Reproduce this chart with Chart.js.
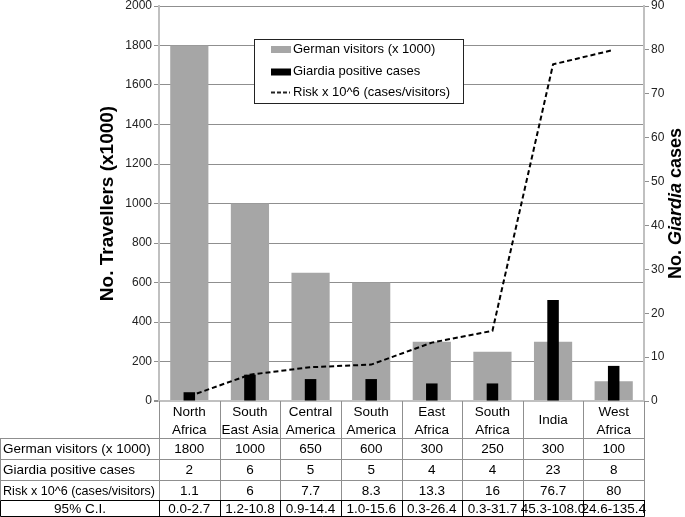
<!DOCTYPE html>
<html>
<head>
<meta charset="utf-8">
<script src="https://cdn.jsdelivr.net/npm/chart.js@4"></script>
<style>
html,body{margin:0;padding:0;background:#fff;}
#wrap{width:685px;height:517px;position:relative;}
</style>
</head>
<body>
<div id="wrap"><canvas id="c" width="685" height="517"></canvas></div>
<script>
// ---- data ----
const regions = [["North","Africa"],["South","East Asia"],["Central","America"],["South","America"],["East","Africa"],["South","Africa"],["India"],["West","Africa"]];
const visitors = [1800, 1000, 650, 600, 300, 250, 300, 100];
const cases = [2, 6, 5, 5, 4, 4, 23, 8];
const risk = [1.1, 6, 7.7, 8.3, 13.3, 16, 76.7, 80];
const ci = ["0.0-2.7","1.2-10.8","0.9-14.4","1.0-15.6","0.3-26.4","0.3-31.7","45.3-108.0","24.6-135.4"];
const seriesNames = ["German visitors (x 1000)", "Giardia positive cases", "Risk x 10^6 (cases/visitors)"];
const rowNames = ["German visitors (x 1000)", "Giardia positive cases", "Risk x 10^6 (cases/visitors)", "95% C.I."];
const leftTicksMax = 2000, leftStep = 200;
const rightTicksMax = 90, rightStep = 10;

const FONT = "'Liberation Sans', Arial, Helvetica, sans-serif";
const GRAY = '#a6a6a6';
const GRID = '#8f8f8f';
const AXIS = '#c0c0c0';

const overlay = {
  id: 'overlay',
  afterDraw(chart) {
    const ctx = chart.ctx;
    const x = chart.scales.x;
    const ca = chart.chartArea;
    const n = regions.length;
    const centers = regions.map((_, i) => x.getPixelForValue(i));
    const bounds = [ca.left];
    for (let i = 0; i < n - 1; i++) bounds.push((centers[i] + centers[i + 1]) / 2);
    bounds.push(ca.right);

    ctx.save();
    // ---- axis titles ----
    ctx.fillStyle = '#000';
    ctx.textAlign = 'center';
    ctx.textBaseline = 'middle';
    const midY = (ca.top + ca.bottom) / 2;
    ctx.save();
    ctx.translate(108, midY);
    ctx.rotate(-Math.PI / 2);
    ctx.font = 'bold 19px ' + FONT;
    ctx.fillText('No. Travellers (x1000)', 0, 0);
    ctx.restore();

    ctx.save();
    ctx.translate(676, midY);
    ctx.rotate(-Math.PI / 2);
    const parts = [['No. ', 'bold 18px '], ['Giardia', 'italic bold 18px '], [' cases', 'bold 18px ']];
    let total = 0;
    parts.forEach(p => { ctx.font = p[1] + FONT; total += ctx.measureText(p[0]).width; });
    let px = -total / 2;
    ctx.textAlign = 'left';
    parts.forEach(p => { ctx.font = p[1] + FONT; ctx.fillText(p[0], px, 0); px += ctx.measureText(p[0]).width; });
    ctx.restore();

    // ---- legend ----
    const lx = 254.5, ly = 39.5, lw = 209, lh = 64;
    ctx.fillStyle = '#fff';
    ctx.fillRect(lx, ly, lw, lh);
    ctx.strokeStyle = '#222';
    ctx.lineWidth = 1;
    ctx.strokeRect(lx, ly, lw, lh);
    const rowsY = [49, 71.5, 92.5];
    ctx.fillStyle = GRAY;
    ctx.fillRect(271, rowsY[0] - 3, 20, 7);
    ctx.fillStyle = '#000';
    ctx.fillRect(271, rowsY[1] - 3, 20, 7);
    ctx.beginPath();
    ctx.setLineDash([4, 2]);
    ctx.lineWidth = 2;
    ctx.moveTo(271, rowsY[2]);
    ctx.lineTo(290, rowsY[2]);
    ctx.stroke();
    ctx.setLineDash([]);
    ctx.font = '13px ' + FONT;
    ctx.textAlign = 'left';
    ctx.textBaseline = 'middle';
    ctx.fillStyle = '#000';
    seriesNames.forEach((s, i) => ctx.fillText(s, 293, rowsY[i]));

    // ---- table ----
    const yAxis = ca.bottom;
    const rowLines = [438, 459, 480, 500, 516];
    ctx.lineWidth = 1;
    ctx.strokeStyle = GRID;
    ctx.beginPath();
    for (let i = 0; i <= n; i++) {
      const bx = Math.round(bounds[i]) + 0.5;
      ctx.moveTo(bx, yAxis); ctx.lineTo(bx, rowLines[3]);
    }
    ctx.moveTo(0.5, rowLines[0]); ctx.lineTo(0.5, rowLines[3]);
    for (let r = 0; r < 3; r++) {
      ctx.moveTo(0, rowLines[r] + 0.5); ctx.lineTo(ca.right, rowLines[r] + 0.5);
    }
    ctx.stroke();
    ctx.strokeStyle = '#000';
    ctx.beginPath();
    ctx.rect(0.5, rowLines[3] + 0.5, Math.round(ca.right), rowLines[4] - rowLines[3]);
    for (let i = 0; i <= n; i++) {
      const bx = Math.round(bounds[i]) + 0.5;
      ctx.moveTo(bx, rowLines[3]); ctx.lineTo(bx, rowLines[4]);
    }
    ctx.stroke();

    ctx.fillStyle = '#000';
    ctx.font = '13.5px ' + FONT;
    ctx.textBaseline = 'middle';
    ctx.textAlign = 'center';
    regions.forEach((lab, i) => {
      if (lab.length === 1) ctx.fillText(lab[0], centers[i], 420);
      else { ctx.fillText(lab[0], centers[i], 412); ctx.fillText(lab[1], centers[i], 430); }
    });
    const rowMid = [0, 1, 2, 3].map(r => (rowLines[r] + rowLines[r + 1]) / 2 + 1);
    const rows = [visitors.map(String), cases.map(String), risk.map(String), ci];
    rows.forEach((vals, r) => {
      vals.forEach((v, i) => ctx.fillText(v, centers[i], rowMid[r]));
    });
    ctx.textAlign = 'left';
    for (let r = 0; r < 3; r++) ctx.fillText(rowNames[r], 3, rowMid[r], 152);
    ctx.textAlign = 'center';
    ctx.fillText(rowNames[3], 80, rowMid[3]);
    ctx.restore();
  }
};

new Chart(document.getElementById('c'), {
  type: 'bar',
  data: {
    labels: regions.map(r => r.join(' ')),
    datasets: [
      { type: 'line', label: seriesNames[2], data: risk, yAxisID: 'y1', borderColor: '#000', borderWidth: 2, borderDash: [5, 3], pointRadius: 0, tension: 0, fill: false, order: 0 },
      { label: seriesNames[1], data: cases, yAxisID: 'y1', backgroundColor: '#000', barPercentage: 0.19, categoryPercentage: 1, grouped: false, order: 1 },
      { label: seriesNames[0], data: visitors, yAxisID: 'y', backgroundColor: GRAY, barPercentage: 0.63, categoryPercentage: 1, grouped: false, order: 2 }
    ]
  },
  options: {
    responsive: false,
    animation: false,
    devicePixelRatio: 1,
    layout: { padding: { top: 0, bottom: 116, left: 0, right: 0 } },
    plugins: { legend: { display: false }, tooltip: { enabled: false } },
    scales: {
      x: { display: false, offset: true },
      y: {
        position: 'left', min: 0, max: leftTicksMax,
        ticks: { stepSize: leftStep, color: '#222', font: { family: FONT, size: 12 }, padding: 2, callback: v => String(v) },
        grid: { color: c => (c.tick && c.tick.value === 0) ? AXIS : GRID, lineWidth: c => (c.tick && c.tick.value === 0) ? 2 : 1, tickColor: GRID, tickLength: 5 },
        border: { color: AXIS, width: 2 },
        afterFit: s => { s.width = 159; s.paddingTop = 6; s.paddingBottom = 0; }
      },
      y1: {
        position: 'right', min: 0, max: rightTicksMax,
        ticks: { stepSize: rightStep, color: '#222', font: { family: FONT, size: 12 }, padding: 2, callback: v => String(v) },
        grid: { drawOnChartArea: false, tickColor: GRID, tickLength: 5 },
        border: { color: AXIS, width: 2 },
        afterFit: s => { s.width = 41; s.paddingTop = 6; s.paddingBottom = 0; }
      }
    }
  },
  plugins: [overlay]
});
</script>
</body>
</html>
